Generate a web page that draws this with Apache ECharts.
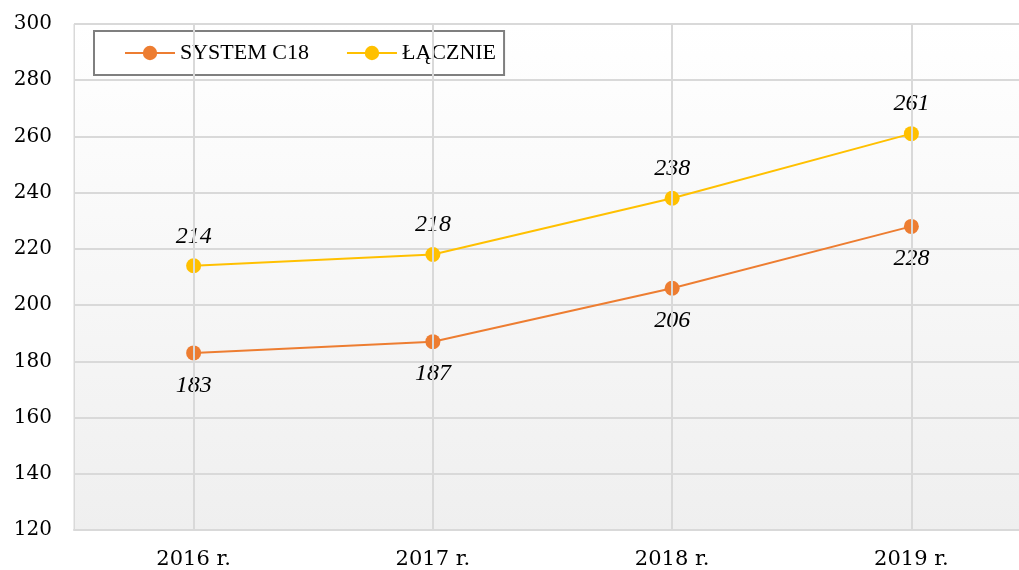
<!DOCTYPE html>
<html>
<head>
<meta charset="utf-8">
<script src="https://cdn.jsdelivr.net/npm/echarts@6/dist/echarts.min.js"></script>
<style>
  html, body { margin: 0; padding: 0; background: #fff; }
  #chart { width: 1019px; height: 570px; }
</style>
</head>
<body>
<div id="chart"></div>
<script>
const years = ['2016 r.', '2017 r.', '2018 r.', '2019 r.']
const systemC18 = [183, 187, 206, 228]
const lacznie = [214, 218, 238, 261]

const axisFont = 'DejaVu Serif'
const textFont = 'Liberation Serif'
const chart = echarts.init(document.getElementById('chart'))

function valueLabel(position, distance) {
  return {
    show: true,
    position: position,
    distance: distance,
    fontFamily: textFont,
    fontStyle: 'italic',
    fontSize: 24,
    color: '#000'
  }
}

const option = {
  animation: false,
  textStyle: { fontFamily: textFont },
  legend: {
    left: 94,
    top: 31,
    padding: [10, 8, 10, 30],
    itemGap: 37,
    itemWidth: 50,
    itemHeight: 18,
    borderColor: '#7f7f7f',
    borderWidth: 2,
    backgroundColor: '#fff',
    textStyle: { fontFamily: textFont, fontSize: 22, lineHeight: 24, color: '#000' },
    data: ['SYSTEM C18', 'ŁĄCZNIE']
  },
  grid: {
    left: 74,
    width: 957,
    top: 24,
    bottom: 40,
    outerBoundsMode: 'none',
    containLabel: false,
    show: true,
    borderColor: '#d9d9d9',
    borderWidth: 1,
    backgroundColor: new echarts.graphic.LinearGradient(0, 0, 0, 1, [
      { offset: 0, color: '#ffffff' },
      { offset: 1, color: '#efefef' }
    ])
  },
  xAxis: {
    type: 'category',
    data: years,
    boundaryGap: true,
    axisLine: { lineStyle: { color: '#d9d9d9', width: 2 } },
    axisTick: { show: false },
    splitLine: { show: false },
    axisLabel: { fontFamily: axisFont, fontSize: 21, color: '#000', margin: 19 }
  },
  yAxis: {
    type: 'value',
    min: 120,
    max: 300,
    interval: 20,
    axisLine: { show: true, lineStyle: { color: '#d9d9d9' } },
    axisTick: { show: false },
    splitLine: { lineStyle: { color: '#d9d9d9', width: 2 } },
    axisLabel: { fontFamily: axisFont, fontSize: 20, color: '#000', margin: 22 }
  },
  series: [
    {
      type: 'line',
      data: [],
      silent: true,
      z: 1,
      markLine: {
        silent: true,
        symbol: 'none',
        label: { show: false },
        lineStyle: { color: '#d9d9d9', type: 'solid', width: 2 },
        data: years.map(y => ({ xAxis: y }))
      }
    },
    {
      name: 'SYSTEM C18',
      type: 'line',
      data: systemC18,
      z: 3,
      symbol: 'circle',
      symbolSize: 15,
      color: '#ED7D31',
      lineStyle: { width: 2, color: '#ED7D31' },
      label: valueLabel('bottom', 13)
    },
    {
      name: 'ŁĄCZNIE',
      type: 'line',
      data: lacznie,
      z: 3,
      symbol: 'circle',
      symbolSize: 15,
      color: '#FFC000',
      lineStyle: { width: 2, color: '#FFC000' },
      label: valueLabel('top', 10)
    }
  ]
}

chart.setOption(option)
</script>
</body>
</html>
